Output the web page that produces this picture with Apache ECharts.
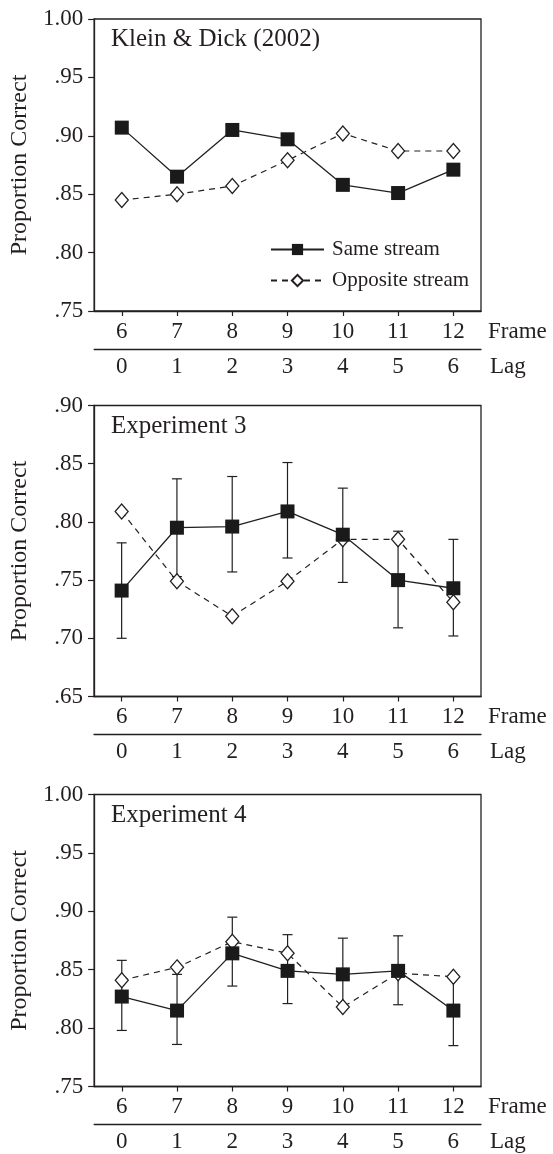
<!DOCTYPE html>
<html><head><meta charset="utf-8">
<script src="https://cdn.jsdelivr.net/npm/echarts@6/dist/echarts.min.js"></script>
<style>html,body{margin:0;padding:0;background:#fff}#c{width:553px;height:1154px}</style>
</head><body><div id="c"></div>
<script>
// ---- data ----
const frames = ['6', '7', '8', '9', '10', '11', '12'];
const lags = ['0', '1', '2', '3', '4', '5', '6'];
const panelTitles = ['Klein & Dick (2002)', 'Experiment 3', 'Experiment 4'];
const yMins = [0.75, 0.65, 0.75];
const yMaxs = [1.00, 0.90, 1.00];
const yStep = 0.05;

const kdSame = [0.907, 0.865, 0.905, 0.897, 0.858, 0.851, 0.871];
const kdOpp  = [0.845, 0.850, 0.857, 0.879, 0.902, 0.887, 0.887];

const e3Same = [0.741, 0.795, 0.796, 0.809, 0.789, 0.750, 0.743];
const e3Opp  = [0.809, 0.749, 0.719, 0.749, 0.785, 0.785, 0.731];
const e3Low  = [0.700, 0.753, 0.757, 0.769, 0.748, 0.709, 0.702];
const e3High = [0.782, 0.837, 0.839, 0.851, 0.829, 0.792, 0.785];

const e4Same = [0.827, 0.815, 0.864, 0.849, 0.846, 0.849, 0.815];
const e4Opp  = [0.841, 0.852, 0.874, 0.864, 0.818, 0.847, 0.844];
const e4Low  = [0.798, 0.786, 0.836, 0.821, 0.816, 0.820, 0.785];
const e4High = [0.858, 0.846, 0.895, 0.880, 0.877, 0.879, 0.844];

const sameSets = [kdSame, e3Same, e4Same];
const oppSets = [kdOpp, e3Opp, e4Opp];
const lowSets = [null, e3Low, e4Low];
const highSets = [null, e3High, e4High];

// ---- layout / style ----
const FONT = 'Liberation Serif';
const INK = '#231f20';
const grids = [
  {left: 91, top: 19, width: 390, height: 292},
  {left: 91, top: 405.5, width: 390, height: 291},
  {left: 91, top: 794.5, width: 390, height: 292}
];

const chart = echarts.init(document.getElementById('c'), null, {renderer: 'canvas'});

const fmtY = v => {
  const s = v.toFixed(2);
  return v >= 1 ? s : s.replace(/^0/, '');
};

const option = {
  animation: false,
  backgroundColor: '#fff',
  textStyle: {fontFamily: FONT, color: INK},
  title: [],
  grid: [],
  xAxis: [],
  yAxis: [],
  series: [],
  legend: {
    left: 265, top: 234, orient: 'vertical',
    itemWidth: 53, itemHeight: 14, itemGap: 10,
    textStyle: {fontFamily: FONT, fontSize: 21, color: INK, lineHeight: 21, padding: [0, 0, 0, 3]},
    data: ['Same stream', 'Opposite stream']
  }
};

grids.forEach((g, p) => {
  option.grid.push({left: g.left, top: g.top, width: g.width, height: g.height,
    show: true, borderColor: INK, borderWidth: 1.3, containLabel: false});
  option.title.push({text: panelTitles[p], left: 111, top: g.top + 8, padding: 0,
    textStyle: {fontFamily: FONT, fontSize: 25, fontWeight: 'normal', color: INK}});
  option.xAxis.push({
    type: 'category', data: frames, gridIndex: p, position: 'bottom', boundaryGap: true,
    axisLine: {show: true, lineStyle: {color: INK, width: 1.3}},
    axisTick: {show: true, length: 5, inside: false, alignWithLabel: true, lineStyle: {color: INK, width: 1.2}},
    axisLabel: {fontFamily: FONT, fontSize: 23, color: INK, margin: 9},
    name: 'Frame', nameLocation: 'end', nameGap: 7,
    nameTextStyle: {fontFamily: FONT, fontSize: 23, color: INK, verticalAlign: 'top', padding: [9, 0, 0, 0]},
    splitLine: {show: false}
  });
  option.xAxis.push({
    type: 'category', data: lags, gridIndex: p, position: 'bottom', offset: 38, boundaryGap: true,
    axisLine: {show: true, lineStyle: {color: INK, width: 1.3}},
    axisTick: {show: false},
    axisLabel: {fontFamily: FONT, fontSize: 23, color: INK, margin: 6},
    name: 'Lag', nameLocation: 'end', nameGap: 9,
    nameTextStyle: {fontFamily: FONT, fontSize: 23, color: INK, verticalAlign: 'top', padding: [6, 0, 0, 0]},
    splitLine: {show: false}
  });
  option.yAxis.push({
    type: 'value', gridIndex: p, min: yMins[p], max: yMaxs[p], interval: yStep,
    axisLine: {show: true, lineStyle: {color: INK, width: 1.3}},
    axisTick: {show: true, length: 6, lineStyle: {color: INK, width: 1.2}},
    axisLabel: {fontFamily: FONT, fontSize: 23, color: INK, margin: 11, formatter: fmtY},
    splitLine: {show: false},
    name: 'Proportion Correct', nameLocation: 'middle', nameGap: 62,
    nameTextStyle: {fontFamily: FONT, fontSize: 24, color: INK}
  });

  if (lowSets[p]) {
    option.series.push({
      type: 'custom', xAxisIndex: 2 * p, yAxisIndex: p, z: 1, silent: true,
      data: lowSets[p].map((lo, i) => [i, lo, highSets[p][i]]),
      encode: {x: 0, y: [1, 2]},
      renderItem: (params, api) => {
        const lo = api.coord([api.value(0), api.value(1)]);
        const hi = api.coord([api.value(0), api.value(2)]);
        const w = 5;
        const st = {stroke: INK, lineWidth: 1.2, fill: null};
        return {type: 'group', children: [
          {type: 'line', shape: {x1: lo[0], y1: lo[1], x2: hi[0], y2: hi[1]}, style: st},
          {type: 'line', shape: {x1: lo[0] - w, y1: lo[1], x2: lo[0] + w, y2: lo[1]}, style: st},
          {type: 'line', shape: {x1: hi[0] - w, y1: hi[1], x2: hi[0] + w, y2: hi[1]}, style: st}
        ]};
      }
    });
  }

  option.series.push({
    name: 'Opposite stream', type: 'line', xAxisIndex: 2 * p, yAxisIndex: p, z: 2,
    data: oppSets[p],
    symbol: 'diamond', symbolSize: [13, 15],
    lineStyle: {color: INK, width: 1.2, type: [6, 5]},
    itemStyle: {color: '#fff', borderColor: INK, borderWidth: 1.3}
  });
  option.series.push({
    name: 'Same stream', type: 'line', xAxisIndex: 2 * p, yAxisIndex: p, z: 3,
    data: sameSets[p],
    symbol: 'rect', symbolSize: 14,
    lineStyle: {color: INK, width: 1.3, type: 'solid'},
    itemStyle: {color: '#1a1a1a', borderColor: '#1a1a1a', borderWidth: 0}
  });
});

chart.setOption(option);
</script>
</body></html>
